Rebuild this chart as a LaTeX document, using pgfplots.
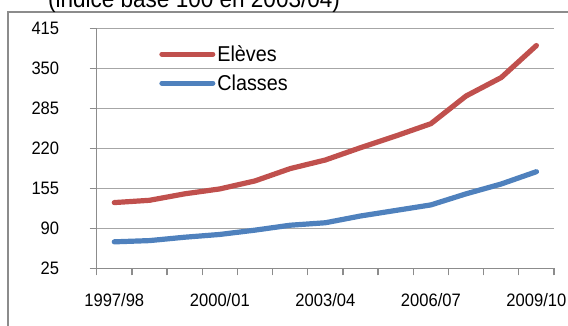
\documentclass[border=0pt]{standalone}
\usepackage{fontspec}
\setmainfont{Liberation Sans}[FakeStretch=0.92]
\usepackage{pgfplots}
\pgfplotsset{compat=1.18}
\definecolor{cred}{HTML}{C0504D}
\definecolor{cblue}{HTML}{4F81BD}
\definecolor{gridc}{HTML}{A6A6A6}
\definecolor{axc}{HTML}{8C8C8C}
\pgfplotstableread{
x eleves classes
1 131.8 68
2 135.5 70
3 146 75.5
4 154 80
5 167 87
6 187 95
7 201 99
8 221 110
9 240 119
10 260 128
11 305 146
12 335 162
13 387 182
}\datatab
\begin{document}
\begin{tikzpicture}[x=1pt,y=1pt]
\draw[axc, line width=1.3pt] (8,-20) -- (8,314) -- (620,314);
\node[anchor=base, inner sep=0pt, font=\fontsize{24.5}{26}\selectfont] at (194,318.5) {(indice base 100 en 2003/04)};
\begin{axis}[
  at={(96.7pt,57.7pt)}, anchor=south west,
  scale only axis, width=457.3pt, height=240pt,
  xmin=0.5, xmax=13.5, ymin=25, ymax=415,
  ytick={25,90,155,220,285,350,415},
  xtick={0.5,1.5,2.5,3.5,4.5,5.5,6.5,7.5,8.5,9.5,10.5,11.5,12.5,13.5}, xticklabels={},
  extra x ticks={1,4,7,10,13},
  extra x tick labels={1997/98,2000/01,2003/04,2006/07,2009/10},
  extra x tick style={major tick length=0pt, xticklabel style={yshift=-22pt}},
  axis x line=bottom, axis y line=left,
  axis line style={-, draw=axc, line width=1.3pt},
  ymajorgrids, major grid style={draw=gridc, line width=1.3pt},
  tick style={draw=axc, line width=1.3pt},
  tick align=outside, major tick length=7pt,
  /pgf/number format/assume math mode=true,
  tick label style={font=\fontsize{18}{20}\selectfont},
  yticklabel style={xshift=-27pt},
  clip=false,
  legend style={at={(0.1366,0.938)}, anchor=north west, draw=none, fill=none,
    font=\fontsize{21.5}{24}\selectfont, row sep=8pt, inner sep=0pt,
    /tikz/every even column/.append style={column sep=2pt}},
  legend cell align=left,
  legend image code/.code={\draw[#1, line width=5pt, line cap=round] (0pt,0pt) -- (51pt,0pt);},
]
\addplot[cred, line width=5.2pt, line cap=round, line join=round] table[x=x, y=eleves] {\datatab};
\addlegendentry{Elèves}
\addplot[cblue, line width=5.2pt, line cap=round, line join=round] table[x=x, y=classes] {\datatab};
\addlegendentry{Classes}
\end{axis}
\pgfresetboundingbox
\path[use as bounding box] (0,0) rectangle (568,326);
\end{tikzpicture}
\end{document}
